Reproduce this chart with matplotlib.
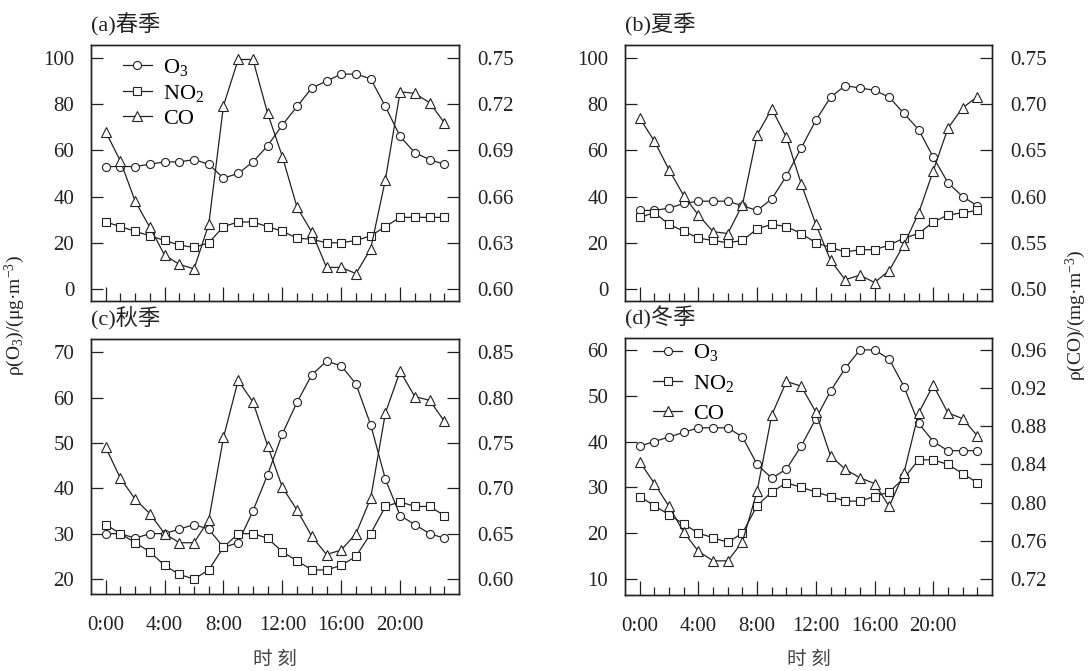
import matplotlib
matplotlib.use("Agg")
import matplotlib.pyplot as plt
from matplotlib.ticker import FixedLocator

plt.rcParams['font.family'] = ['Liberation Serif', 'Noto Sans CJK SC']
plt.rcParams['mathtext.fontset'] = 'custom'
plt.rcParams['mathtext.rm'] = 'Liberation Serif'
plt.rcParams['mathtext.it'] = 'Liberation Serif:italic'
plt.rcParams['axes.unicode_minus'] = True

hours = list(range(24))
xtick_hours = [0, 4, 8, 12, 16, 20]
xtick_labels = ["0:00", "4:00", "8:00", "12:00", "16:00", "20:00"]

# ---- spring ----
o3_spring = [53, 53, 53, 54, 55, 55, 56, 54, 48, 50, 55, 62, 71, 79, 87, 90, 93, 93, 91, 79, 66, 59, 56, 54]
no2_spring = [29, 27, 25, 23, 21, 19, 18, 20, 27, 29, 29, 27, 25, 22, 21.5, 20, 20, 21, 23, 27, 31, 31, 31, 31]
co_spring = [0.702, 0.683, 0.657, 0.640, 0.622, 0.616, 0.613, 0.642, 0.719, 0.749, 0.749, 0.714,
             0.686, 0.653, 0.637, 0.614, 0.614, 0.610, 0.626, 0.671, 0.728, 0.727, 0.721, 0.708]
# ---- summer ----
o3_summer = [34, 34, 35, 37, 38, 38, 38, 36, 34, 39, 49, 61, 73, 83, 88, 87, 86, 83, 76, 69, 57, 46, 40, 36]
no2_summer = [31, 33, 28, 25, 22, 21, 20, 21, 26, 28, 27, 24, 20, 18, 16, 17, 17, 19, 22, 24, 29, 32, 33, 34]
co_summer = [0.685, 0.660, 0.629, 0.601, 0.580, 0.562, 0.560, 0.591, 0.667, 0.695, 0.664, 0.614,
             0.570, 0.531, 0.510, 0.515, 0.507, 0.520, 0.548, 0.582, 0.628, 0.674, 0.696, 0.708]
# ---- autumn ----
o3_autumn = [30, 30, 29, 30, 30, 31, 32, 31, 27, 28, 35, 43, 52, 59, 65, 68, 67, 63, 54, 42, 34, 32, 30, 29]
no2_autumn = [32, 30, 28, 26, 23, 21, 20, 22, 27, 30, 30, 29, 26, 24, 22, 22, 23, 25, 30, 36, 37, 36, 36, 34]
co_autumn = [0.745, 0.711, 0.688, 0.672, 0.650, 0.640, 0.640, 0.665, 0.756, 0.819, 0.795, 0.747,
             0.701, 0.676, 0.647, 0.627, 0.632, 0.650, 0.689, 0.783, 0.829, 0.801, 0.797, 0.774]
# ---- winter ----
o3_winter = [39, 40, 41, 42, 43, 43, 43, 41, 35, 32, 34, 39, 45, 51, 56, 60, 60, 58, 52, 44, 40, 38, 38, 38]
no2_winter = [28, 26, 24, 22, 20, 19, 18, 20, 26, 29, 31, 30, 29, 28, 27, 27, 28, 29, 32, 36, 36, 35, 33, 31]
co_winter = [0.843, 0.820, 0.796, 0.769, 0.749, 0.739, 0.739, 0.759, 0.812, 0.892, 0.927, 0.922,
             0.895, 0.849, 0.835, 0.826, 0.820, 0.796, 0.831, 0.894, 0.923, 0.894, 0.888, 0.870]

titles = ["(a)春季", "(b)夏季", "(c)秋季", "(d)冬季"]
series_labels = [r"O$_3$", r"NO$_2$", "CO"]

W, H = 1088, 671
fig = plt.figure(figsize=(W / 100, H / 100), dpi=100)

def rect(l, r, t, b):
    return [l / W, 1 - b / H, (r - l) / W, (b - t) / H]

panels = [
    dict(o3=o3_spring, no2=no2_spring, co=co_spring, box=(91, 459, 45, 301),
         ylim=(-5.2, 105.6), lticks=[0, 20, 40, 60, 80, 100],
         rmap=((0, 0.60), (100, 0.75)), rticks=[0.60, 0.63, 0.66, 0.69, 0.72, 0.75], rfmt="%.2f",
         xlabels=False, legend=(0.075, 0.97, 0.2)),
    dict(o3=o3_summer, no2=no2_summer, co=co_summer, box=(625, 992, 45, 301),
         ylim=(-5.2, 105.6), lticks=[0, 20, 40, 60, 80, 100],
         rmap=((0, 0.50), (100, 0.75)), rticks=[0.50, 0.55, 0.60, 0.65, 0.70, 0.75], rfmt="%.2f",
         xlabels=False, legend=None),
    dict(o3=o3_autumn, no2=no2_autumn, co=co_autumn, box=(91, 459, 339, 594),
         ylim=(16.7, 72.9), lticks=[20, 30, 40, 50, 60, 70],
         rmap=((20, 0.60), (70, 0.85)), rticks=[0.60, 0.65, 0.70, 0.75, 0.80, 0.85], rfmt="%.2f",
         xlabels=True, legend=None),
    dict(o3=o3_winter, no2=no2_winter, co=co_winter, box=(625, 992, 338, 595),
         ylim=(6.5, 62.6), lticks=[10, 20, 30, 40, 50, 60],
         rmap=((10, 0.72), (60, 0.96)), rticks=[0.72, 0.76, 0.80, 0.84, 0.88, 0.92, 0.96], rfmt="%.2f",
         xlabels=True, legend=(0.065, 1.0, 0.42)),
]

lc = "#222222"
for p, title in zip(panels, titles):
    l, r, t, b = p["box"]
    ax = fig.add_axes(rect(l, r, t, b))
    ax2 = ax.twinx()
    (l0, r0), (l1, r1) = p["rmap"]
    k = (r1 - r0) / (l1 - l0)
    ax.set_ylim(*p["ylim"])
    ax2.set_ylim(r0 + (p["ylim"][0] - l0) * k, r0 + (p["ylim"][1] - l0) * k)
    ax.set_xlim(-1, 24)

    h1, = ax.plot(hours, p["o3"], color=lc, lw=0.9, marker="o", ms=5.8, mfc="white", mec=lc, mew=0.8)
    h2, = ax.plot(hours, p["no2"], color=lc, lw=0.9, marker="s", ms=5.2, mfc="white", mec=lc, mew=0.8)
    h3, = ax2.plot(hours, p["co"], color=lc, lw=0.9, marker="^", ms=6.8, mfc="white", mec=lc, mew=0.8)

    ax.set_yticks(p["lticks"])
    ax2.set_yticks(p["rticks"])
    ax2.set_yticklabels([p["rfmt"] % v for v in p["rticks"]])
    ax.xaxis.set_major_locator(FixedLocator(xtick_hours))
    ax.xaxis.set_minor_locator(FixedLocator([h for h in hours if h not in xtick_hours]))
    if p["xlabels"]:
        ax.set_xticklabels(xtick_labels)
    else:
        ax.set_xticklabels([])

    ax.tick_params(axis="y", direction="in", length=8.5, width=0.9, labelsize=15, pad=12, colors=lc)
    ax2.tick_params(axis="y", direction="in", length=8.5, width=0.9, labelsize=15, pad=13, colors=lc)
    ax.tick_params(axis="x", which="major", direction="in", length=10, width=0.9, labelsize=15, pad=16, colors=lc)
    ax.tick_params(axis="x", which="minor", direction="in", length=5.5, width=0.9, colors=lc)
    for a in (ax, ax2):
        for s in a.spines.values():
            s.set_linewidth(1.0)
            s.set_color(lc)

    fig.text(l / W, 1 - (t - 20) / H, title, fontsize=16, ha="left", va="center", color=lc)
    if p["xlabels"]:
        fig.text((l + r) / 2 / W, 1 - 660 / H, "时 刻", fontsize=14, ha="center", va="center", color="#444444")

    if p["legend"] is not None:
        lx, ly, ls = p["legend"]
        ax.legend([h1, h2, h3], series_labels, loc="upper left", bbox_to_anchor=(lx, ly),
                  frameon=False, fontsize=16, handlelength=1.3, handletextpad=0.5,
                  labelspacing=ls, borderpad=0.2, borderaxespad=0)

fig.text(15 / W, 0.53, r"ρ(O$_3$)/(μg·m$^{-3}$)", rotation=90, fontsize=14, ha="center", va="center", color=lc)
fig.text(1076 / W, 0.53, r"ρ(CO)/(mg·m$^{-3}$)", rotation=90, fontsize=14, ha="center", va="center", color=lc)

fig.savefig("out.png", dpi=100)
